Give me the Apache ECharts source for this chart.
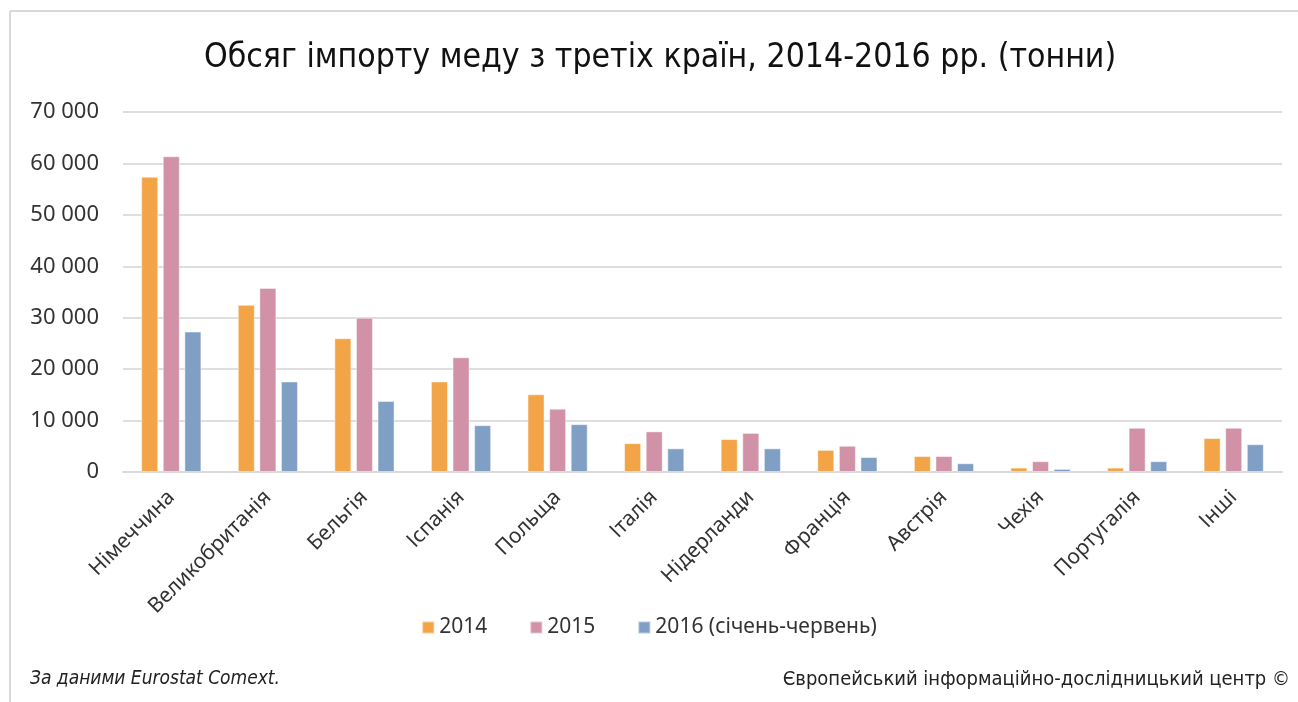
<!DOCTYPE html>
<html>
<head>
<meta charset="utf-8">
<script src="https://cdn.jsdelivr.net/npm/echarts@6/dist/echarts.min.js"></script>
<style>
  html, body { margin: 0; padding: 0; background: #fff; }
  #chartContainer { width: 1298px; height: 702px; }
</style>
</head>
<body>
<div id="chartContainer"></div>
<script>
'use strict';
const categories = ['Німеччина', 'Великобританія', 'Бельгія', 'Іспанія', 'Польща', 'Італія',
    'Нідерланди', 'Франція', 'Австрія', 'Чехія', 'Португалія', 'Інші'];
const values2014 = [57400, 32500, 26000, 17600, 15100, 5600, 6400, 4300, 3100, 850, 850, 6600];
const values2015 = [61400, 35800, 30000, 22300, 12300, 7900, 7600, 5100, 3100, 2100, 8600, 8600];
const values2016 = [27300, 17600, 13800, 9100, 9300, 4600, 4600, 2900, 1700, 600, 2100, 5400];
const seriesNames = ['2014', '2015', '2016 (січень-червень)'];
const yTicks = [0, 10000, 20000, 30000, 40000, 50000, 60000, 70000];

let initChart = (function() {
    let chartContainer = document.getElementById('chartContainer');
    let demoChart = echarts.init(chartContainer);
    const font = "'Noto Sans', sans-serif";
    const narrow = "'Liberation Sans Narrow', 'DejaVu Sans Condensed', sans-serif";
    const colors = ['#F2A446', '#D192A7', '#809FC4'];

    let mkSeries = function(name, data, color) {
        return {
            name: name,
            type: 'bar',
            data: data,
            barWidth: 17,
            barGap: '27%',
            itemStyle: {
                color: color,
                borderColor: 'rgba(255,255,255,0.45)',
                borderWidth: 1
            }
        };
    };

    let option = {
        backgroundColor: '#ffffff',
        color: colors,
        title: {
            text: 'Обсяг імпорту меду з третіх країн, 2014-2016 рр. (тонни)',
            left: 199,
            top: 36,
            textStyle: {
                fontFamily: narrow,
                fontWeight: 'normal',
                fontSize: 33.5,
                color: '#111'
            }
        },
        legend: {
            data: seriesNames,
            bottom: 59,
            left: 'center',
            icon: 'rect',
            itemWidth: 12,
            itemHeight: 12,
            itemGap: 42,
            textStyle: { fontFamily: font, fontSize: 21, color: '#333' }
        },
        grid: { left: 123, right: 16, top: 112, bottom: 230 },
        xAxis: {
            type: 'category',
            data: categories,
            axisLine: { lineStyle: { color: '#d9d9d9', width: 2 } },
            axisTick: { show: false },
            axisLabel: {
                rotate: 45,
                margin: 22,
                interval: 0,
                fontFamily: font,
                fontSize: 21,
                color: '#333'
            }
        },
        yAxis: {
            type: 'value',
            min: yTicks[0],
            max: yTicks[yTicks.length - 1],
            interval: 10000,
            axisLine: { show: false },
            axisTick: { show: false },
            splitLine: { lineStyle: { color: '#dedede', width: 2 } },
            axisLabel: {
                margin: 24,
                fontFamily: font,
                fontSize: 22,
                color: '#333',
                formatter: function(v) {
                    return String(v).replace(/\B(?=(\d{3})+(?!\d))/g, ' ');
                }
            }
        },
        graphic: [
            { type: 'line', shape: { x1: 10, y1: 11, x2: 1298, y2: 11 }, style: { stroke: '#d9d9d9', lineWidth: 2 } },
            { type: 'line', shape: { x1: 10, y1: 11, x2: 10, y2: 702 }, style: { stroke: '#d9d9d9', lineWidth: 2 } },
            {
                type: 'text', left: 30, top: 670,
                style: {
                    text: 'За даними Eurostat Comext.',
                    font: "italic 19px " + narrow,
                    fill: '#222'
                }
            },
            {
                type: 'text', right: 8, top: 670,
                style: {
                    text: 'Європейський інформаційно-дослідницький центр ©',
                    font: "20px " + narrow,
                    fill: '#222'
                }
            }
        ],
        series: [
            mkSeries(seriesNames[0], values2014, colors[0]),
            mkSeries(seriesNames[1], values2015, colors[1]),
            mkSeries(seriesNames[2], values2016, colors[2])
        ]
    };

    demoChart.setOption(option);
})();
</script>
</body>
</html>
